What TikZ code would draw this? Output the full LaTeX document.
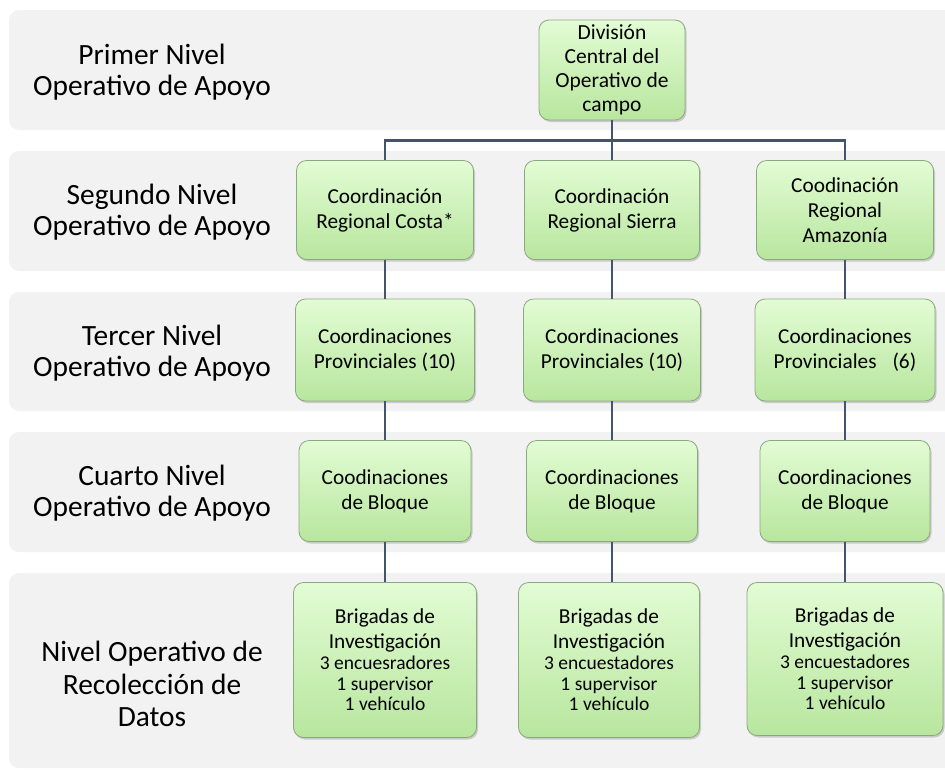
\documentclass[tikz,border=0pt]{standalone}
\usepackage{fontspec}
\setmainfont{Carlito}
\usepackage{tikz}
\usetikzlibrary{positioning}
\usetikzlibrary{shadows}
\definecolor{bandgray}{RGB}{242,242,242}
\definecolor{boxgreen}{RGB}{198,244,172}
\definecolor{boxlight}{RGB}{226,252,212}
\definecolor{boxdark}{RGB}{184,230,158}
\definecolor{boxedge}{RGB}{140,168,128}
\definecolor{linkslate}{RGB}{68,84,106}
\newcommand{\crew}{\fontsize{19.5}{20.5}\selectfont}

\begin{document}
\begin{tikzpicture}[x=1pt,y=-1pt]
\useasboundingbox (0,0) rectangle (945,769);

% bands of the levels
\begin{scope}[every path/.style={fill=bandgray, rounded corners=10pt}]
    \path (9,10) rectangle (975,130);
    \path (9,151) rectangle (975,271);
    \path (9,292) rectangle (975,411);
    \path (9,432) rectangle (975,552);
    \path (9,573) rectangle (975,768);
\end{scope}

% names of the levels
\begin{scope}[every node/.style={align=center, font=\fontsize{29.4}{31}\selectfont}]
    \node (lvlA) at (152,72) {Primer Nivel\\Operativo de Apoyo};
    \node (lvlB) at (152,212) {Segundo Nivel\\Operativo de Apoyo};
    \node (lvlC) at (152,353) {Tercer Nivel\\Operativo de Apoyo};
    \node (lvlD) at (152,493) {Cuarto Nivel\\Operativo de Apoyo};
    \node[font=\fontsize{29.4}{32.5}\selectfont] (lvlE) at (152,684) {Nivel Operativo de\\Recolección de\\Datos};
\end{scope}

% units
\begin{scope}[every node/.style={draw=boxedge, line width=0.8pt, rounded corners=10pt,
                                 top color=boxlight, middle color=boxgreen, bottom color=boxdark,
                                 drop shadow={shadow xshift=1.5pt, shadow yshift=-2pt, opacity=0.35},
                                 align=center, inner sep=1pt, font=\fontsize{21.3}{25}\selectfont}]
    \node[minimum width=146, minimum height=100, font=\fontsize{21.5}{24}\selectfont] (div) at (612,70) {División\\Central del\\Operativo de\\campo};

    \node[minimum width=177, minimum height=99] (costa) at (385,210) {Coordinación\\Regional Costa*};
    \node[minimum width=175, minimum height=99] (sierra) at (612,210) {Coordinación\\Regional Sierra};
    \node[minimum width=177, minimum height=99] (amaz) at (845,210) {Coodinación\\Regional\\Amazonía};

    \node[minimum width=179, minimum height=102] (provC) at (385,350) {Coordinaciones\\Provinciales (10)};
    \node[minimum width=177, minimum height=102] (provS) at (612,350) {Coordinaciones\\Provinciales (10)};
    \node[minimum width=180, minimum height=102] (provA) at (845,350) {Coordinaciones\\Provinciales\hspace{0.75em}(6)};

    \node[minimum width=172, minimum height=101] (bloqC) at (385,491) {Coodinaciones\\de Bloque};
    \node[minimum width=171, minimum height=101] (bloqS) at (612,491) {Coordinaciones\\de Bloque};
    \node[minimum width=170, minimum height=101] (bloqA) at (845,491) {Coordinaciones\\de Bloque};

    \node[minimum width=183, minimum height=155] (brigC) at (385,660)
        {Brigadas de\\Investigación\\[-4pt]\crew 3 encuesradores\\[-4.5pt]\crew 1 supervisor\\[-4.5pt]\crew 1 vehículo};
    \node[minimum width=181, minimum height=155] (brigS) at (609,660)
        {Brigadas de\\Investigación\\[-4pt]\crew 3 encuestadores\\[-4.5pt]\crew 1 supervisor\\[-4.5pt]\crew 1 vehículo};
    \node[minimum width=196, minimum height=153] (brigA) at (845,659)
        {Brigadas de\\Investigación\\[-4pt]\crew 3 encuestadores\\[-4.5pt]\crew 1 supervisor\\[-4.5pt]\crew 1 vehículo};
\end{scope}

% connectors
\begin{scope}[every edge/.style={draw=linkslate, line width=2.4pt}]
    \draw[draw=linkslate, line width=2.4pt] (div.south) -- ++(0,20) coordinate (bus);
    \draw[draw=linkslate, line width=2.4pt] (costa.north) |- (bus) -| (amaz.north);
    \path (bus) edge (sierra.north);
    \path (costa) edge (provC) (provC) edge (bloqC) (bloqC) edge (brigC);
    \path (sierra) edge (provS) (provS) edge (bloqS);
    \path (bloqS.south) edge (bloqS.south |- brigS.north);
    \path (amaz) edge (provA) (provA) edge (bloqA) (bloqA) edge (brigA);
\end{scope}
\end{tikzpicture}
\end{document}
